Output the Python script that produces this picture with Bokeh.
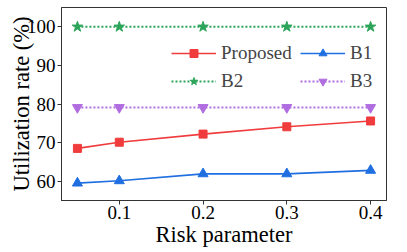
from bokeh.plotting import figure
from bokeh.models import Range1d, FixedTicker, Legend, LegendItem
from bokeh.embed import file_html
from bokeh.resources import INLINE

risk = [0.05, 0.1, 0.2, 0.3, 0.4]
proposed = [68.5, 70.1, 72.2, 74.1, 75.6]
b1 = [59.5, 60.1, 61.9, 61.9, 62.8]
b2 = [100, 100, 100, 100, 100]
b3 = [79.1, 79.1, 79.1, 79.1, 79.1]
x_ticks = [0.1, 0.2, 0.3, 0.4]
y_ticks = [60, 70, 80, 90, 100]
x_label = "Risk parameter"
y_label = "Utilization rate (%)"

FONT = "Liberation Serif"
RED = "#f03c3c"
BLUE = "#1f6fe0"
GREEN = "#2ca55a"
PURPLE = "#b06de0"

p = figure(width=399, height=250, output_backend="svg", toolbar_location=None,
           x_range=Range1d(0.031, 0.419), y_range=Range1d(55, 105),
           min_border_left=61, min_border_right=13, min_border_top=7, min_border_bottom=50)

p.xgrid.visible = False
p.ygrid.visible = False
p.outline_line_color = "#333333"
p.outline_line_width = 1

l1 = p.line(risk, proposed, line_color=RED, line_width=1.6)
m1 = p.scatter(risk, proposed, marker="square", size=8, color=RED)
l2 = p.line(risk, b1, line_color=BLUE, line_width=1.6)
m2 = p.scatter(risk, b1, marker="triangle", size=10, color=BLUE)
l3 = p.line(risk, b2, line_color=GREEN, line_width=2, line_dash="2 2")
m3 = p.scatter(risk, b2, marker="star", size=11, color=GREEN)
l4 = p.line(risk, b3, line_color=PURPLE, line_width=2, line_dash="2 2")
m4 = p.scatter(risk, b3, marker="inverted_triangle", size=10, color=PURPLE)

for ax in (p.xaxis[0], p.yaxis[0]):
    ax.axis_line_color = "#333333"
    ax.major_tick_line_color = "#333333"
    ax.major_tick_in = 0
    ax.major_tick_out = 4
    ax.minor_tick_line_color = None
    ax.major_label_text_font = FONT
    ax.major_label_text_font_size = "19px"
    ax.major_label_text_color = "black"
    ax.axis_label_text_font = FONT
    ax.axis_label_text_font_size = "22.5px"
    ax.axis_label_text_font_style = "normal"
    ax.axis_label_text_color = "black"

p.xaxis.ticker = FixedTicker(ticks=x_ticks)
p.yaxis.ticker = FixedTicker(ticks=y_ticks)
p.xaxis.axis_label = x_label
p.yaxis.axis_label = y_label
p.xaxis.major_label_standoff = 1
p.yaxis.major_label_standoff = 2
p.xaxis.axis_label_standoff = 0
p.yaxis.axis_label_standoff = -10

common = dict(glyph_width=45, glyph_height=20, label_standoff=5, spacing=6,
              padding=0, margin=0, border_line_alpha=0, background_fill_alpha=0,
              label_text_font=FONT, label_text_font_size="19px", label_height=20)
legend_a = Legend(items=[
    LegendItem(label="Proposed", renderers=[l1, m1]),
    LegendItem(label="B2", renderers=[l3, m3]),
], location=(110, 108), **common)
legend_b = Legend(items=[
    LegendItem(label="B1", renderers=[l2, m2]),
    LegendItem(label="B3", renderers=[l4, m4]),
], location=(239, 108), **common)
p.add_layout(legend_a)
p.add_layout(legend_b)

open("out.html", "w").write(file_html(p, INLINE))
